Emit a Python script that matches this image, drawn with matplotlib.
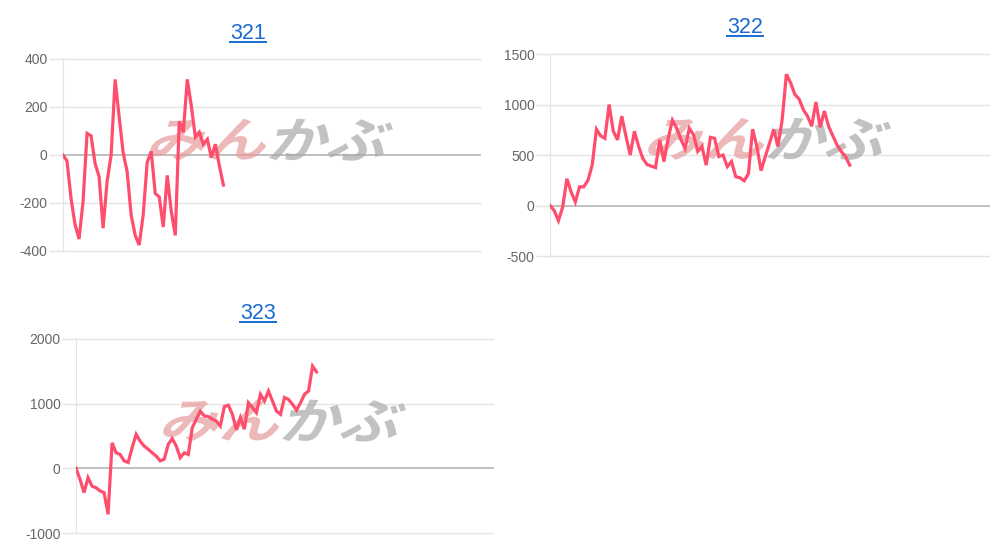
import matplotlib
matplotlib.use("Agg")
import matplotlib.pyplot as plt
from matplotlib.lines import Line2D
from matplotlib.textpath import TextPath
from matplotlib.patches import PathPatch
from matplotlib.font_manager import FontProperties
from matplotlib.transforms import Affine2D

plt.rcParams['font.family'] = ['Liberation Sans', 'Noto Sans CJK JP', 'DejaVu Sans']

# data (x labels are hidden, 105 slots per axis)
n_slots = 105

titles = ["321", "322", "323"]

s321 = [0, -25, -180, -290, -350, -195, 90, 80, -35, -90, -305, -110, 0, 315,
        160, 10, -70, -250, -335, -375, -250, -30, 15, -160, -175, -300, -85,
        -235, -335, 140, 95, 315, 205, 75, 95, 45, 65, -10, 45, -45, -125]

s322 = [0, -50, -150, -15, 265, 135, 35, 185, 185, 250, 400, 755, 690, 665,
        1000, 735, 650, 885, 685, 500, 735, 585, 465, 405, 390, 375, 650, 435,
        665, 845, 765, 655, 565, 765, 700, 535, 585, 400, 675, 665, 485, 500,
        385, 435, 285, 275, 245, 315, 755, 585, 345, 485, 615, 755, 585, 850,
        1300, 1215, 1100, 1055, 950, 885, 785, 1025, 775, 935, 785, 690, 600,
        535, 485, 400]

s323 = [0, -170, -375, -145, -275, -300, -350, -375, -710, 395, 240, 215, 115,
        90, 320, 525, 420, 345, 295, 240, 190, 115, 140, 370, 460, 345, 165,
        240, 215, 630, 760, 885, 810, 800, 760, 730, 655, 955, 975, 835, 595,
        785, 605, 1015, 940, 860, 1145, 1040, 1195, 1040, 885, 835, 1095, 1065,
        990, 900, 1015, 1145, 1195, 1580, 1490]

series = [s321, s322, s323]
yticks = [[-400, -200, 0, 200, 400],
          [-500, 0, 500, 1000, 1500],
          [-1000, 0, 1000, 2000]]

# axes boxes in figure fraction [left, bottom, width, height]
boxes = [[0.063, 0.5502, 0.417, 0.3441],
         [0.550, 0.5412, 0.439, 0.3620],
         [0.076, 0.0448, 0.417, 0.3477]]
title_pos = [(0.248, 0.940), (0.745, 0.951), (0.258, 0.438)]

line_color = '#ff4d6d'
grid_color = '#e4e4e4'
zero_color = '#b4b4b4'
link_color = '#1a6bd1'

fig = plt.figure(figsize=(10, 5.58), dpi=100)
W, H = fig.get_size_inches() * fig.dpi
logo_font = FontProperties(family='Noto Sans CJK JP', weight='bold')


def logo_part(ax, text, color, right_aligned):
    # stretched, slanted glyphs for the watermark (sizes in pixels)
    tp = TextPath((0, 0), text, size=40, prop=logo_font)
    ext = tp.get_extents()
    sx = 115 / ext.width
    sy = 42 / ext.height
    bw, bh = ax.get_position().width * W, ax.get_position().height * H
    x0 = -ext.x1 if right_aligned else -ext.x0
    tr = (Affine2D().translate(x0, -ext.y0 - ext.height / 2)
          .scale(sx, sy).skew_deg(18, 0)
          .translate(3 if not right_aligned else -3, 0)
          .scale(1 / bw, 1 / bh).translate(0.5, 0.58) + ax.transAxes)
    ax.add_patch(PathPatch(tp, transform=tr, facecolor=color, edgecolor='none',
                           alpha=0.7, zorder=2))


title_texts = []
for vals, ticks, box, tpos, title in zip(series, yticks, boxes, title_pos, titles):
    ax = fig.add_axes(box)
    ax.set_xlim(0, n_slots - 1)
    ax.set_ylim(ticks[0], ticks[-1])
    ax.set_yticks(ticks)
    ax.set_yticklabels([str(t) for t in ticks], fontsize=10, color='#666666')
    ax.set_xticks([])
    ax.tick_params(axis='y', length=10, width=1, color=grid_color, pad=1)
    for t in ticks:
        ax.axhline(t, color=zero_color if t == 0 else grid_color,
                   lw=1.2 if t == 0 else 1, zorder=1, clip_on=False)
    for side in ['top', 'right', 'bottom']:
        ax.spines[side].set_visible(False)
    ax.spines['left'].set_color(grid_color)

    # watermark logo
    logo_part(ax, "みん", '#e49a9a', True)
    logo_part(ax, "かぶ", '#a8a8a8', False)

    ax.plot(range(len(vals)), vals, color=line_color, lw=2.3, zorder=3,
            solid_joinstyle='miter')

    t = fig.text(tpos[0], tpos[1], title, ha='center', va='center',
                 fontsize=15.5, color=link_color)
    title_texts.append(t)

# underline the link-style titles
renderer = fig.canvas.get_renderer()
for t in title_texts:
    bb = t.get_window_extent(renderer).transformed(fig.transFigure.inverted())
    y = bb.y0 + 0.003
    fig.add_artist(Line2D([bb.x0, bb.x1], [y, y], color=link_color, lw=1.4,
                          transform=fig.transFigure))

fig.savefig("out.png", dpi=100)
